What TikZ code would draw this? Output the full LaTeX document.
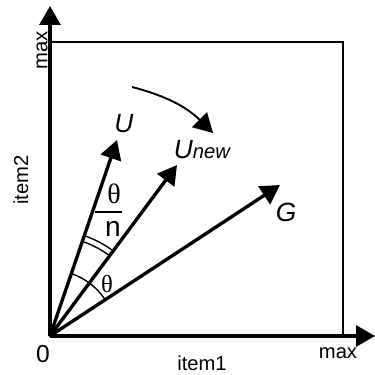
\documentclass[tikz,border=0pt]{standalone}
\usepackage{fontspec}
\setmainfont{Liberation Sans}
\newfontfamily\thetafont{Liberation Serif}
\usetikzlibrary{arrows.meta, calc}

\begin{document}
\begin{tikzpicture}[x=0.02cm, y=0.02cm, >={Triangle[length=0.38cm, width=0.42cm]},
    every node/.style={font=\fontsize{11.5}{13}\selectfont, inner sep=0pt},
    axis/.style={->, line width=1.8pt},
    vec/.style={->, line width=1.9pt},
    angarc/.style={line width=0.8pt},
    vlabel/.style={font=\fontsize{15}{17}\selectfont\itshape},
    greek/.style={font=\fontsize{16}{18}\selectfont\thetafont},
]
\useasboundingbox (0,0) rectangle (375,375);

\coordinate (O) at (50,39);
\coordinate (xend) at (375,39);
\coordinate (yend) at (50,369);
\coordinate (U) at (117,235);
\coordinate (Unew) at (177,210);
\coordinate (G) at (280,190);
\coordinate (rotA) at (132,288);
\coordinate (rotB) at (213,242);

\draw[line width=0.6pt] (O) rectangle (343,333);

\draw[axis] (O) -- (xend);
\draw[axis] (O) -- (yend);

\draw[vec] (O) -- (U);
\draw[vec] (O) -- (Unew);
\draw[vec] (O) -- (G);

\draw[angarc] ($(O)+(33.3:66)$) arc[start angle=33.3, end angle=71.1, radius=66];
\draw[angarc] ($(O)+(53.4:100)$) arc[start angle=53.4, end angle=71.1, radius=100];
\draw[angarc] ($(O)+(53.4:106)$) arc[start angle=53.4, end angle=71.1, radius=106];

\draw[->, line width=1.1pt] (rotA) to[bend left=15] (rotB);

\node[font=\fontsize{14}{16}\selectfont] (zero) at (43,21) {0};
\node (item1) at (202,12) {item1};
\node (xmax) at (338,22) {max};
\node[rotate=90] (item2) at (21,195) {item2};
\node[rotate=90] (ymax) at (42,325) {max};

\node[vlabel] (Ulabel) at (124,251) {U};
\node[vlabel] (Unewlabel) at (202,225) {U{\fontsize{11.5}{13}\selectfont new}};
\node[vlabel] (Glabel) at (286,163) {G};

\node[greek] (thtop) at (114,181) {θ};
\node[font=\fontsize{16}{18}\selectfont] (nbot) at (113,146) {n};
\draw[line width=0.8pt] (95,163) -- (122,163);
\node[greek, font=\fontsize{14}{16}\selectfont\thetafont] (theta) at (107,91) {θ};

\end{tikzpicture}
\end{document}
